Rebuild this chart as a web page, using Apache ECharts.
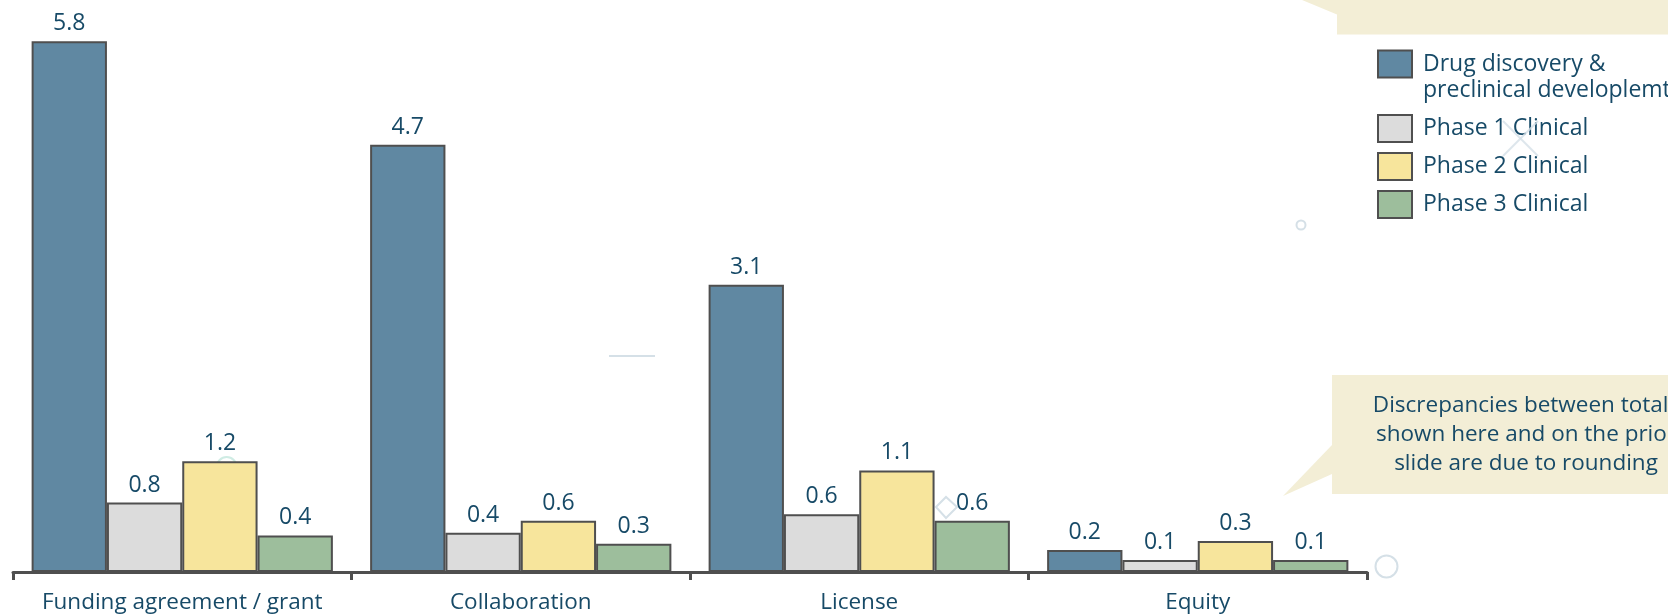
<!DOCTYPE html>
<html>
<head>
<meta charset="utf-8">
<script src="https://cdn.jsdelivr.net/npm/echarts@6/dist/echarts.min.js"></script>
<style>
html,body{margin:0;padding:0;background:#fff;}
#chart{width:1668px;height:614px;}
</style>
</head>
<body>
<div id="chart"></div>
<script>
// ---- data ----
const categories = ['Funding agreement / grant', 'Collaboration', 'License', 'Equity'];
const seriesNames = ['Drug discovery &\npreclinical developlemt', 'Phase 1 Clinical', 'Phase 2 Clinical', 'Phase 3 Clinical'];
const drugDiscovery = [5.8, 4.67, 3.14, 0.24];
const phase1 = [0.76, 0.43, 0.63, 0.13];
const phase2 = [1.21, 0.56, 1.11, 0.34];
const phase3 = [0.40, 0.31, 0.56, 0.13];
const noteText = 'Discrepancies between totals\nshown here and on the prior\nslide are due to rounding';

// ---- styles ----
const FONT = '"Open Sans", "Noto Sans", sans-serif';
const TXT = '#174a67';
const EDGE = '#4f4f4f';
const colors = ['#6088a2', '#dcdcdc', '#f7e59c', '#9dbe9c'];
const DECO = '#d5e0e7';
const NOTE_BG = '#f3eed6';

const seriesData = [drugDiscovery, phase1, phase2, phase3];

const chart = echarts.init(document.getElementById('chart'));
chart.setOption({
  animation: false,
  backgroundColor: '#ffffff',
  grid: { left: 13, right: 301, top: 23, bottom: 38, containLabel: false },
  xAxis: {
    type: 'category',
    data: categories,
    axisLine: { show: true, lineStyle: { color: EDGE, width: 3 } },
    axisTick: { show: true, interval: 0, length: 8, lineStyle: { color: EDGE, width: 3 } },
    axisLabel: { interval: 0, color: TXT, fontFamily: FONT, fontSize: 22.5, margin: 19 }
  },
  yAxis: {
    type: 'value', min: 0, max: 6,
    show: false,
    splitLine: { show: false }
  },
  legend: [
    {
      data: [seriesNames[0]],
      orient: 'vertical', left: 1377, top: 25, padding: 0,
      itemWidth: 34, itemHeight: 27,
      icon: 'rect',
      formatter: name => '\n' + name,
      itemStyle: { borderColor: EDGE, borderWidth: 2 },
      textStyle: { color: TXT, fontFamily: FONT, fontSize: 23, lineHeight: 26, padding: [0, 0, 0, 6] }
    },
    {
      data: seriesNames.slice(1),
      orient: 'vertical', left: 1377, top: 114, padding: 0,
      itemWidth: 34, itemHeight: 27, itemGap: 9,
      icon: 'rect',
      itemStyle: { borderColor: EDGE, borderWidth: 2 },
      textStyle: { color: TXT, fontFamily: FONT, fontSize: 23, lineHeight: 26, padding: [0, 0, 0, 6] }
    }
  ],
  series: seriesNames.map((name, i) => ({
    name: name,
    type: 'bar',
    data: seriesData[i],
    barGap: '0%',
    barCategoryGap: '11%',
    itemStyle: { color: colors[i], borderColor: EDGE, borderWidth: 2 },
    label: {
      show: true, position: 'top', distance: 6,
      color: TXT, fontFamily: FONT, fontSize: 23,
      formatter: p => p.value.toFixed(1)
    },
    z: 3
  })),
  graphic: [
    // faint slide decorations
    { type: 'line', z: 1, shape: { x1: 609, y1: 356, x2: 655, y2: 356 }, style: { stroke: DECO, lineWidth: 2 } },
    { type: 'polygon', z: 1, shape: { points: [[936, 507], [946, 497], [957, 507], [946, 518]] }, style: { fill: 'none', stroke: DECO, lineWidth: 2 } },
    { type: 'circle', z: 1, shape: { cx: 1301, cy: 225, r: 4.5 }, style: { fill: 'none', stroke: DECO, lineWidth: 2 } },
    { type: 'circle', z: 1, shape: { cx: 1386.5, cy: 566.5, r: 11 }, style: { fill: 'none', stroke: DECO, lineWidth: 2 } },
    { type: 'circle', z: 1, shape: { cx: 226.7, cy: 467, r: 10 }, style: { fill: 'none', stroke: '#cfece4', lineWidth: 2 } },
    { type: 'line', z: 100, shape: { x1: 1503, y1: 121, x2: 1538, y2: 156 }, style: { stroke: DECO, lineWidth: 2, opacity: 0.8 } },
    { type: 'line', z: 100, shape: { x1: 1503, y1: 156, x2: 1538, y2: 121 }, style: { stroke: DECO, lineWidth: 2, opacity: 0.8 } },
    // top callout (cut off)
    { type: 'rect', z: 0, shape: { x: 1337, y: -10, width: 400, height: 44.5 }, style: { fill: NOTE_BG } },
    { type: 'polygon', z: 0, shape: { points: [[1290, -5], [1337, 14.5], [1337, -5]] }, style: { fill: NOTE_BG } },
    // bottom callout
    { type: 'rect', z: 0, shape: { x: 1332, y: 375, width: 400, height: 119 }, style: { fill: NOTE_BG } },
    { type: 'polygon', z: 0, shape: { points: [[1332, 445], [1283, 496], [1332, 474]] }, style: { fill: NOTE_BG } },
    { type: 'text', z: 5, x: 1526, y: 435, style: { text: noteText, fill: TXT, font: '22.5px ' + FONT, lineHeight: 29, align: 'center', verticalAlign: 'middle' } }
  ]
});
</script>
</body>
</html>
